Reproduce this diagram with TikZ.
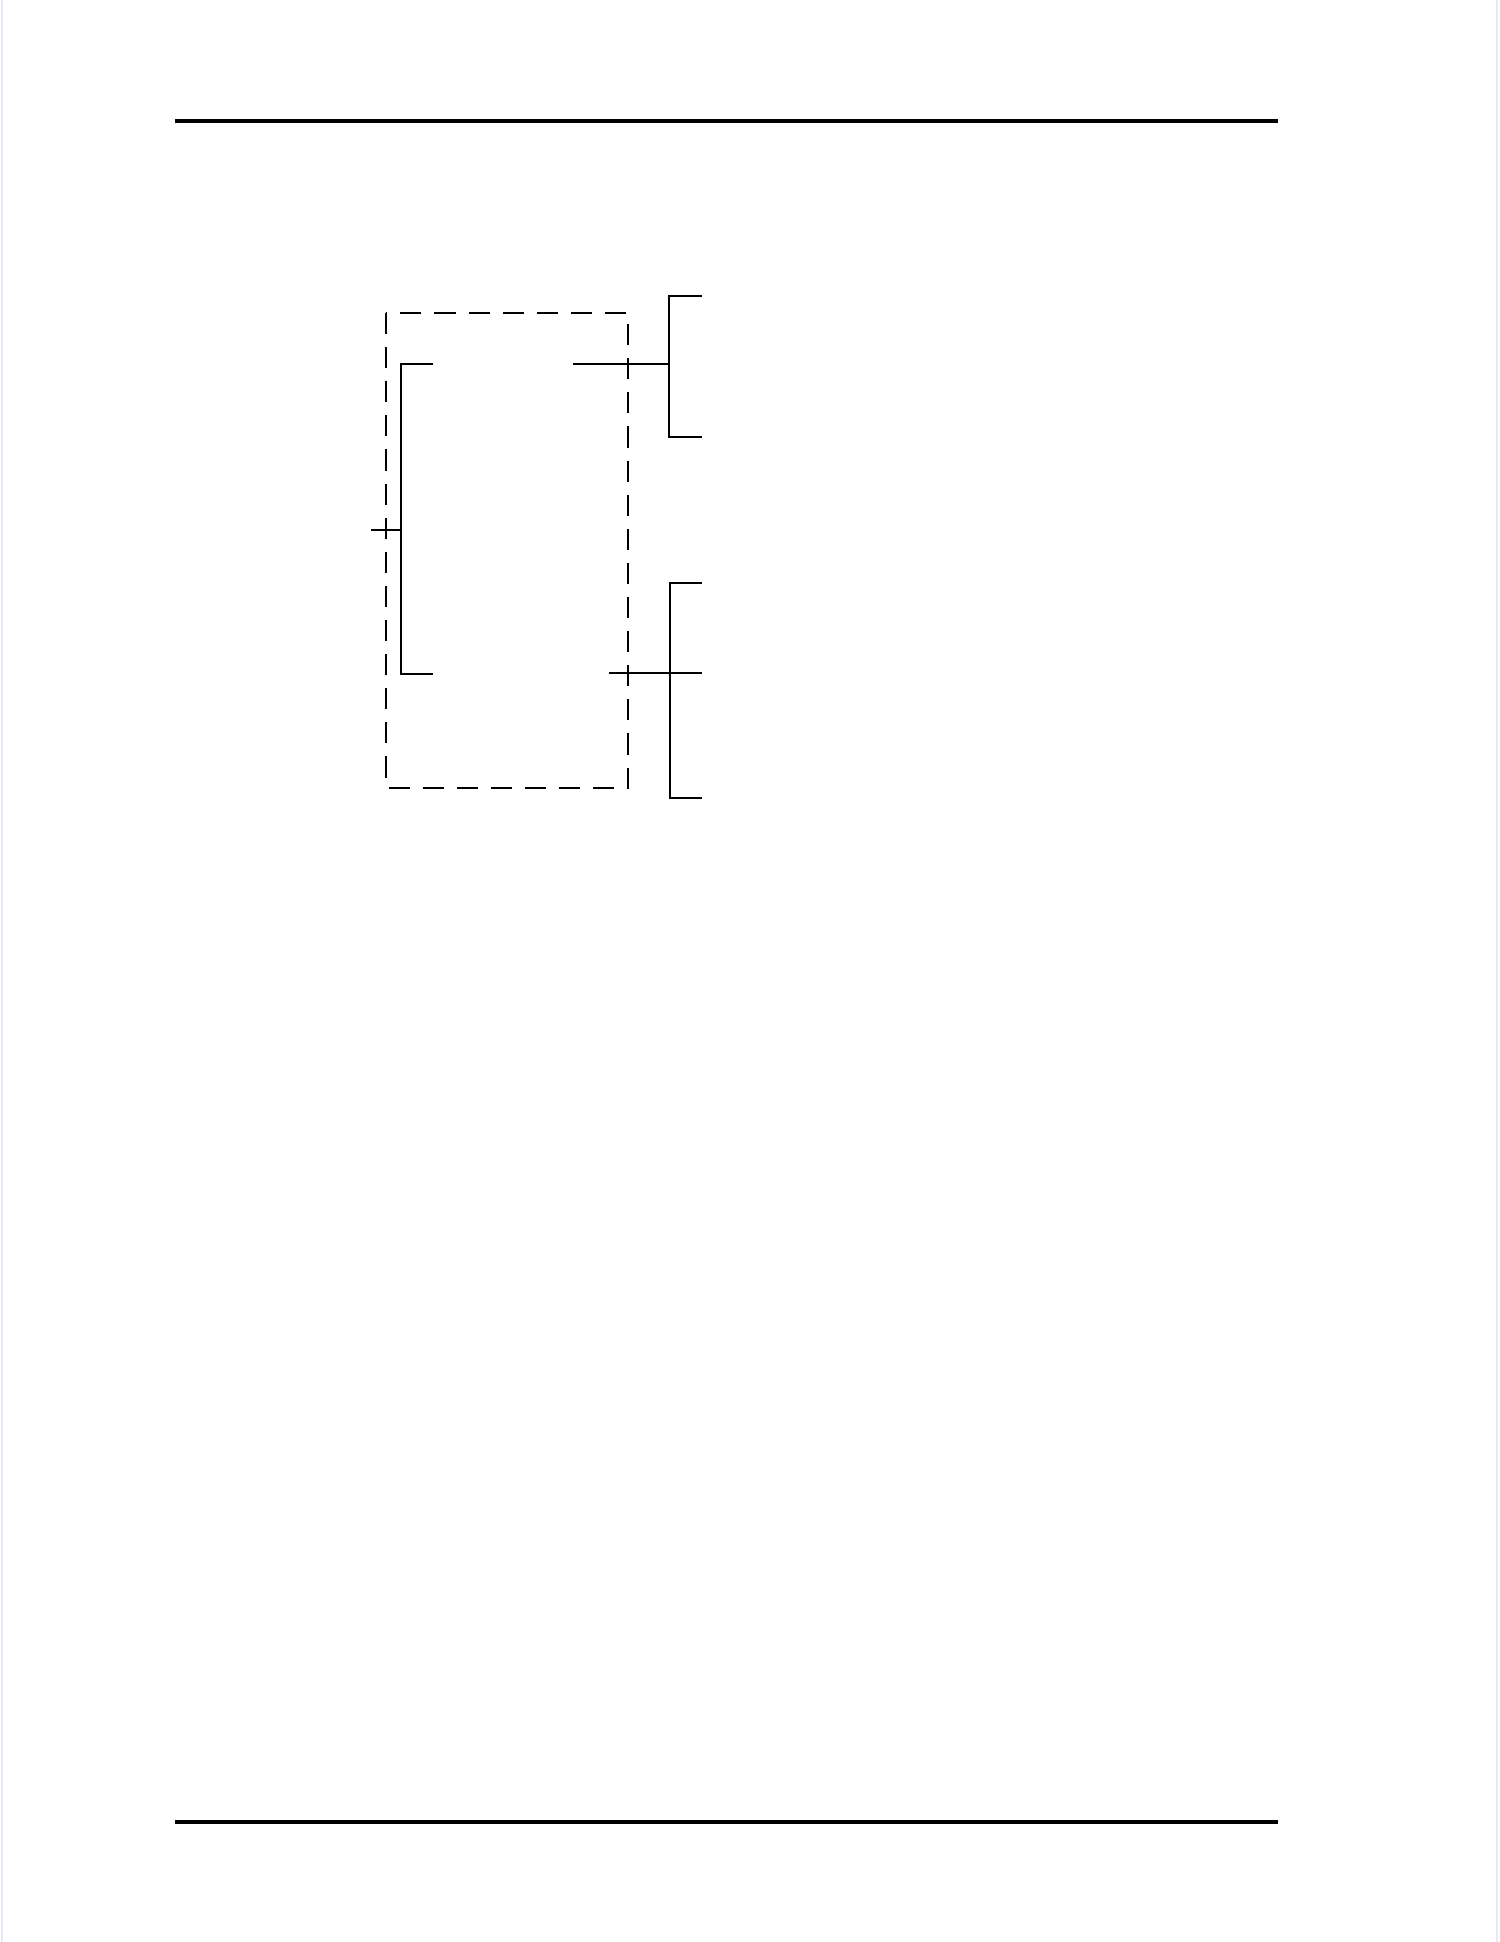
\documentclass[tikz,border=0pt]{standalone}
\usepackage{amsmath}
\usepackage{tikz}
\usetikzlibrary{calc}
\definecolor{edgegray}{RGB}{232,232,246}
\tikzset{
  rule/.style={line width=1.2pt},
  brack/.style={line width=0.7pt},
  frame/.style={line width=0.8pt, dash pattern=on 6pt off 3.7pt}
}

\begin{document}
\begin{tikzpicture}[x=0.01cm, y=-0.01cm]
\useasboundingbox (0,0) rectangle (1500,1942);
\draw[edgegray, line width=0.5pt] (2,0)--(2,1942);
\draw[edgegray, line width=0.5pt] (1497,0)--(1497,1942);
% page rules
\draw[rule] (175,121)--(1278,121);
\draw[rule] (175,1822)--(1278,1822);
% dashed box
\draw[frame] (386,313) rectangle (628,788);
% left bracket
\coordinate (lt) at (433,364);
\coordinate (lb) at (433,674);
\coordinate (lm) at (371,530);
\draw[brack] (lt)--(401,364)--(401,674)--(lb);
\draw[brack] (lm)--(401,530);
% upper right bracket
\coordinate (ua) at (573,364);
\coordinate (ut) at (702,296);
\coordinate (ub) at (702,437);
\draw[brack] (ua)--(669,364);
\draw[brack] (ut)--(669,296)--(669,437)--(ub);
% lower right bracket
\coordinate (da) at (609,673);
\coordinate (dt) at (702,583);
\coordinate (dm) at (702,673);
\coordinate (db) at (702,798);
\draw[brack] (da)--(dm);
\draw[brack] (dt)--(670,583)--(670,798)--(db);
\end{tikzpicture}
\end{document}
